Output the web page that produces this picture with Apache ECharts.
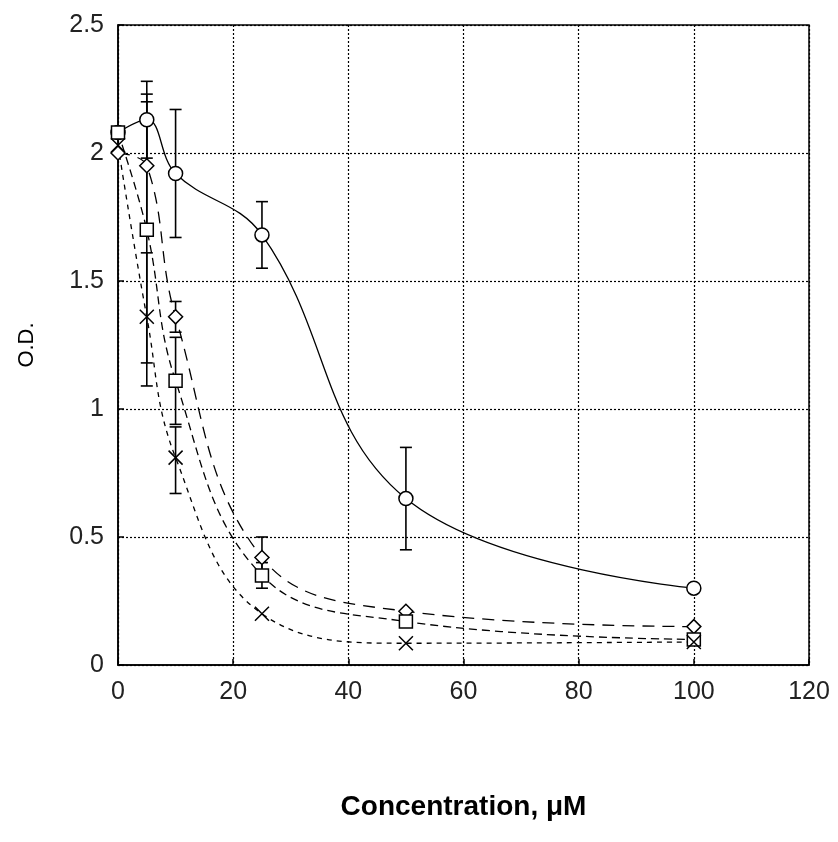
<!DOCTYPE html>
<html><head><meta charset="utf-8">
<script src="https://cdn.jsdelivr.net/npm/echarts@6/dist/echarts.min.js"></script>
<style>html,body{margin:0;padding:0;background:#fff}#c{width:838px;height:842px}</style>
</head><body><div id="c"></div>
<script>
// Concentration (µM)
const conc = [0, 5, 10, 25, 50, 100];
// O.D. values per series
const odCircle  = [2.08, 2.13, 1.92, 1.68, 0.65, 0.30];
const odDiamond = [2.00, 1.95, 1.36, 0.42, 0.21, 0.15];
const odSquare  = [2.08, 1.70, 1.11, 0.35, 0.17, 0.10];
const odCross   = [2.03, 1.36, 0.81, 0.20, 0.085, 0.09];
// Error bars: [x, low, high]
const errCircle  = [[5, 1.98, 2.28], [10, 1.67, 2.17], [25, 1.55, 1.81], [50, 0.45, 0.85]];
const errDiamond = [[5, 1.70, 2.20], [10, 1.30, 1.42], [25, 0.34, 0.50]];
const errSquare  = [[5, 1.18, 2.23], [10, 0.94, 1.28], [25, 0.30, 0.40]];
const errCross   = [[5, 1.09, 1.61], [10, 0.67, 0.93]];
const xTicks = [0, 20, 40, 60, 80, 100, 120];
const yTicks = [0, 0.5, 1, 1.5, 2, 2.5];

const chart = echarts.init(document.getElementById('c'));
const pair = arr => conc.map((x, i) => [x, arr[i]]);
function errSeries(data) {
  return {
    type: 'custom', data: data, z: 3,
    renderItem: function (params, api) {
      const x = api.value(0), lo = api.value(1), hi = api.value(2);
      const p1 = api.coord([x, hi]), p2 = api.coord([x, lo]);
      const w = 6;
      const st = { stroke: '#000', lineWidth: 1.6 };
      return { type: 'group', children: [
        { type: 'line', shape: { x1: p1[0], y1: p1[1], x2: p2[0], y2: p2[1] }, style: st },
        { type: 'line', shape: { x1: p1[0] - w, y1: p1[1], x2: p1[0] + w, y2: p1[1] }, style: st },
        { type: 'line', shape: { x1: p2[0] - w, y1: p2[1], x2: p2[0] + w, y2: p2[1] }, style: st }
      ]};
    }
  };
}
function lineSeries(data, symbol, size, dash, smooth) {
  return {
    type: 'line', data: pair(data), smooth: smooth, symbol: symbol, symbolSize: size,
    lineStyle: { color: '#000', width: 1.3, type: dash },
    itemStyle: { color: '#fff', borderColor: '#000', borderWidth: 1.5 },
    z: 4, animation: false
  };
}
const font = 'Liberation Sans, Arial, sans-serif';
chart.setOption({
  animation: false,
  backgroundColor: '#fff',
  grid: { left: 118, right: 29, top: 25, bottom: 177, show: true, borderColor: '#000', borderWidth: 1.5, backgroundColor: 'transparent' },
  xAxis: {
    type: 'value', min: 0, max: 120, interval: 20,
    axisLine: { show: true, lineStyle: { color: '#000', width: 1.5 } },
    axisTick: { show: true, inside: true, length: 6, lineStyle: { color: '#000', width: 1.5 } },
    axisLabel: { color: '#222', fontSize: 25, fontFamily: font, margin: 15 },
    splitLine: { show: true, lineStyle: { color: '#000', type: [2, 2], width: 1.2 } },
    name: 'Concentration, \u03bcM', nameLocation: 'middle', nameGap: 128,
    nameTextStyle: { color: '#000', fontSize: 28, fontFamily: font, fontWeight: 'bold' }
  },
  yAxis: {
    type: 'value', min: 0, max: 2.5, interval: 0.5,
    axisLine: { show: true, lineStyle: { color: '#000', width: 1.5 } },
    axisTick: { show: true, inside: true, length: 6, lineStyle: { color: '#000', width: 1.5 } },
    axisLabel: { color: '#222', fontSize: 25, fontFamily: font, margin: 14, formatter: v => String(v) },
    splitLine: { show: true, lineStyle: { color: '#000', type: [2, 2], width: 1.2 } },
    name: 'O.D.', nameLocation: 'middle', nameGap: 80, nameRotate: 90,
    nameTextStyle: { color: '#000', fontSize: 22, fontFamily: font }
  },
  series: [
    errSeries(errCircle), errSeries(errDiamond), errSeries(errSquare), errSeries(errCross),
    lineSeries(odCircle, 'circle', 14, 'solid', 0.4),
    lineSeries(odDiamond, 'diamond', 14, [12, 8], 0.4),
    lineSeries(odSquare, 'rect', 13, [8, 5], 0.4),
    lineSeries(odCross, 'path://M0,0L10,10M10,0L0,10', 14, [5, 5], 0.4)
  ]
});
</script></body></html>
